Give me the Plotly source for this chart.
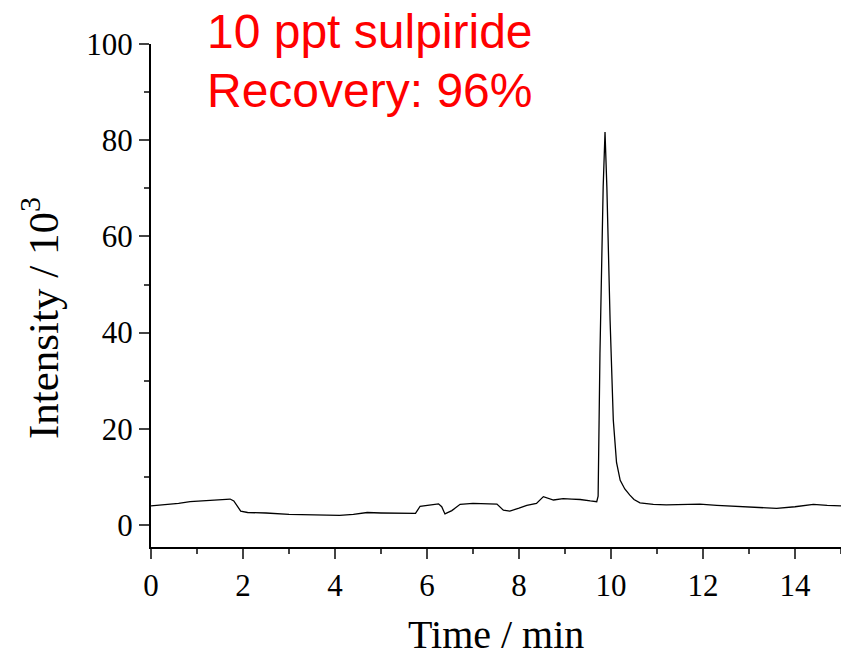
import plotly.graph_objects as go

time_min = [0.00, 0.3, 0.6, 0.85, 1.1, 1.4, 1.6, 1.72, 1.8, 1.88, 1.95, 2.1, 2.5, 3.0, 3.5, 4.1, 4.4, 4.7,
            5.0, 5.4, 5.75, 5.85, 6.05, 6.25, 6.32, 6.39, 6.54, 6.72, 7.0, 7.3, 7.52, 7.66, 7.80, 8.0,
            8.17, 8.38, 8.53, 8.75, 8.96, 9.15, 9.33, 9.55, 9.69, 9.72, 9.76, 9.83, 9.87, 9.91, 9.98,
            10.05, 10.12, 10.2, 10.3, 10.41, 10.5, 10.63, 10.92, 11.2, 11.5, 11.93, 12.3, 12.66, 13.0,
            13.3, 13.6, 14.0, 14.4, 14.7, 15.0]
intensity_k = [4.0, 4.2, 4.5, 4.85, 5.0, 5.2, 5.4, 5.4, 5.0, 3.8, 2.9, 2.6, 2.5, 2.2, 2.1, 2.0, 2.2, 2.6,
               2.5, 2.4, 2.4, 3.9, 4.1, 4.4, 3.8, 2.3, 3.0, 4.3, 4.5, 4.4, 4.35, 3.1, 2.9, 3.5,
               4.1, 4.5, 5.9, 5.2, 5.5, 5.4, 5.3, 5.0, 4.85, 6.0, 35.7, 70.3, 81.7, 70.3, 42.6,
               21.8, 13.0, 9.3, 7.5, 6.2, 5.3, 4.6, 4.3, 4.2, 4.3, 4.35, 4.1, 3.95, 3.8,
               3.6, 3.45, 3.8, 4.3, 4.1, 4.0]

x_ticks = [0, 2, 4, 6, 8, 10, 12, 14]
y_ticks = [0, 20, 40, 60, 80, 100]
label_lines = ["10 ppt sulpiride", "Recovery: 96%"]

serif = "Liberation Serif, Times New Roman, serif"

fig = go.Figure()
fig.add_trace(go.Scatter(x=time_min, y=intensity_k, mode="lines",
                         line=dict(color="black", width=1.3), showlegend=False))

fig.update_layout(
    width=841, height=652,
    margin=dict(l=151, r=0, t=44, b=105),
    plot_bgcolor="white", paper_bgcolor="white",
    font=dict(family=serif, color="black"),
)
fig.update_xaxes(
    range=[0, 15], tickvals=x_ticks, ticks="outside", ticklen=10, tickwidth=1.5,
    showline=True, linecolor="black", linewidth=2, showgrid=False, zeroline=False,
    tickfont=dict(family=serif, size=31),
    minor=dict(dtick=1, tick0=0, ticks="outside", ticklen=5, tickwidth=1.5, showgrid=False),
)
fig.update_yaxes(
    range=[-4.57, 100], tickvals=y_ticks, ticks="outside", ticklen=10, tickwidth=1.5,
    showline=True, linecolor="black", linewidth=2, showgrid=False, zeroline=False,
    tickfont=dict(family=serif, size=31),
    minor=dict(tickvals=[10, 30, 50, 70, 90], ticks="outside", ticklen=5, tickwidth=1.5, showgrid=False),
)

fig.add_annotation(text="Time / min", xref="paper", yref="paper", x=0.5, y=-0.173,
                   xanchor="center", yanchor="middle", showarrow=False,
                   font=dict(family=serif, size=40, color="black"))
fig.add_annotation(text="Intensity / 10<sup>3</sup>", xref="paper", yref="paper", x=-0.161, y=0.455,
                   xanchor="center", yanchor="middle", textangle=-90, showarrow=False,
                   font=dict(family=serif, size=43, color="black"))

ys = [1.025, 0.9085]
for txt, yy in zip(label_lines, ys):
    fig.add_annotation(text=txt, xref="paper", yref="paper", x=0.078, y=yy,
                       xanchor="left", yanchor="middle", showarrow=False,
                       font=dict(family="Liberation Sans, Arial, sans-serif", size=48, color="red"))

fig.write_html("out.html", config={"displayModeBar": False},
               post_script="document.body.style.margin='0';document.body.style.overflow='hidden';")
